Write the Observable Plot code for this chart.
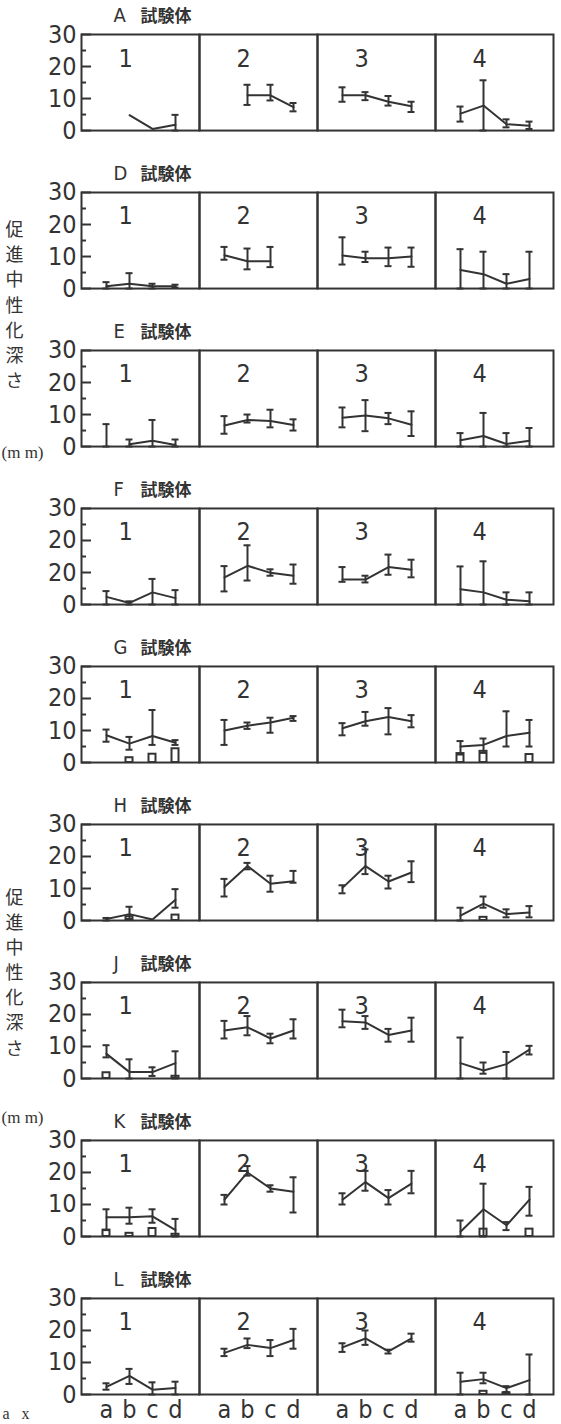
<!DOCTYPE html>
<html><head><meta charset="utf-8">
<script src="https://cdn.jsdelivr.net/npm/d3@7"></script>
<script src="https://cdn.jsdelivr.net/npm/@observablehq/plot@0.6"></script>
<style>body{margin:0;background:#fff}</style>
</head><body><div id="chart"></div>
<script>
const rows = ["A","D","E","F","G","H","J","K","L"];
const panels = [1,2,3,4];
const cats = ["a","b","c","d"];
const majorTicks = [0,10,20,30];
const minorTicks = [5,15,25];
const tickLabels = ["0","10","20","30"];
const F_tickLabels = ["0","20","20","30"];
const N = null;

// each array: 4 panels x 4 categories (a,b,c,d)
const A_mean = [[N,4.8,0.5,1.8],[N,11,11,7.3],[11,11,9,7.6],[5.3,7.8,2,1.5]];
const A_lo   = [[N,N,N,0],[N,8,9.4,6],[9,9.5,7.8,5.8],[2.8,0,1,0.5]];
const A_hi   = [[N,N,N,4.9],[N,14.3,14.3,8.6],[13.5,12,10.8,9],[7.5,15.7,3.5,2.8]];
const A_sq   = [[N,N,N,N],[N,N,N,N],[N,N,N,N],[N,N,N,N]];

const D_mean = [[0.7,1.5,0.7,0.7],[10.4,8.5,8.5,N],[10.3,9.5,9.5,10],[5.8,4.5,1.5,3]];
const D_lo   = [[0,0,0,0.3],[9,6,6.7,N],[7.5,8.3,7,6.8],[0,0,0,0]];
const D_hi   = [[2,4.8,1.5,1.2],[13,12.5,13,N],[16,11.5,12.8,12.8],[12.3,11.5,4.5,11.5]];
const D_sq   = [[N,N,N,N],[N,N,N,N],[N,N,N,N],[N,N,N,N]];

const E_mean = [[N,0.7,1.8,0.5],[6.6,8.3,8,6.7],[9,9.7,8.8,6.8],[2,3.3,0.8,1.8]];
const E_lo   = [[0,0,0,0],[4,7.5,6,5],[6,4.8,7,3.3],[0,0,0,0]];
const E_hi   = [[7,2.2,8.3,2.2],[9.5,10,11.5,8.5],[12.2,14.5,10.5,11],[4.2,10.5,4.2,5.8]];
const E_sq   = [[N,N,N,N],[N,N,N,N],[N,N,N,N],[N,N,N,N]];

const F_mean = [[2.4,0.5,3.8,2],[8.5,12.1,9.9,9],[7.8,7.8,11.7,10.9],[4.8,3.8,1.5,1]];
const F_lo   = [[0,0,0,0],[4.1,7.5,9,6.5],[7.1,6.9,9.3,8.5],[0,0,0,0]];
const F_hi   = [[4.2,1,8,4.5],[12,18.5,11,12.5],[11.7,9,15.6,14],[11.9,13.5,3.8,3.8]];
const F_sq   = [[N,N,N,N],[N,N,N,N],[N,N,N,N],[N,N,N,N]];

const G_mean = [[8.5,5.9,8.3,6.2],[10,11.5,12.5,14],[10.7,12.9,14.2,12.9],[5,5.5,8.3,9.3]];
const G_lo   = [[6.5,4,5.5,5.5],[5.5,10.5,9.3,13],[8.5,11.5,8.8,11],[2.5,3,5,5]];
const G_hi   = [[10.3,8,16.4,7],[13.3,12.5,14,14.5],[12.3,15.8,17,14.8],[6.7,7.5,16,13.3]];
const G_sq   = [[N,1.5,2.6,4.3],[N,N,N,N],[N,N,N,N],[2.8,3.5,N,2.5]];

const H_mean = [[0.5,2,0.3,6.5],[10.5,17,11.5,12.3],[10.2,17,12.2,15],[1.5,5.3,2,2.5]];
const H_lo   = [[0,0.5,N,4],[7.5,16,9,11.8],[8.5,14.5,10,12],[0,4,1,1]];
const H_hi   = [[0.8,4.3,N,9.8],[13,18,14,15.5],[11,22.2,14,18.5],[4,7.5,3.5,4.5]];
const H_sq   = [[N,1.2,N,1.7],[N,N,N,N],[N,N,N,N],[N,1,N,N]];

const J_mean = [[7.7,2,2,4.8],[15,16,12.5,15],[17.9,17.5,13.6,15],[4.8,2.5,4.5,9]];
const J_lo   = [[6.6,0,0.8,0],[12.5,13.5,11,12.5],[16,15.5,11.5,11.5],[0,1.5,0,7.5]];
const J_hi   = [[10.4,6,3.5,8.5],[18,19.5,14,18.5],[21.5,19.5,15.5,19],[12.8,5,8.3,10.2]];
const J_sq   = [[1.8,N,N,0.7],[N,N,N,N],[N,N,N,N],[N,N,N,N]];

const K_mean = [[6,6,6.3,2],[11.5,20,15,14],[11.5,17,12,16.5],[1.5,8.5,3.5,11.5]];
const K_lo   = [[2,4,4.3,0],[10,19,14,7.5],[10,14.3,10,13.5],[0,0,2,6.5]];
const K_hi   = [[8.5,9,8.5,5.5],[13,22,16,18.5],[13.5,20.5,14.5,20.5],[5,16.5,4.5,15.5]];
const K_sq   = [[2,1,2.5,0.7],[N,N,N,N],[N,N,N,N],[N,2.3,N,2.3]];

const L_mean = [[2.4,5.8,1.5,2],[13,15.5,14.5,17],[14.7,17.5,13.5,17.5],[4,4.8,2,4.5]];
const L_lo   = [[1.5,3.3,0,0],[12,14.5,12,14.3],[13.3,15.5,12.8,16.5],[0,3.5,0.8,0]];
const L_hi   = [[3.5,8,3.8,4],[14.3,17.5,17,20.5],[16,20,14,19],[6.8,6.8,2.6,12.5]];
const L_sq   = [[N,N,N,N],[N,N,N,N],[N,N,N,N],[N,1,0.5,N]];

const rowTable = [
  ["A",A_mean,A_lo,A_hi,A_sq,tickLabels],
  ["D",D_mean,D_lo,D_hi,D_sq,tickLabels],
  ["E",E_mean,E_lo,E_hi,E_sq,tickLabels],
  ["F",F_mean,F_lo,F_hi,F_sq,F_tickLabels],
  ["G",G_mean,G_lo,G_hi,G_sq,tickLabels],
  ["H",H_mean,H_lo,H_hi,H_sq,tickLabels],
  ["J",J_mean,J_lo,J_hi,J_sq,tickLabels],
  ["K",K_mean,K_lo,K_hi,K_sq,tickLabels],
  ["L",L_mean,L_lo,L_hi,L_sq,tickLabels]
];

const flat = [];
const tickText = [];
const majorData = [], minorData = [], panelNums = [];
for (const [row, mean, lo, hi, sq, labels] of rowTable) {
  panels.forEach((panel, pi) => {
    cats.forEach((cat, ci) => {
      flat.push({row, panel, cat, mean: mean[pi][ci], lo: lo[pi][ci], hi: hi[pi][ci], sq: sq[pi][ci]});
    });
    panelNums.push({row, panel});
  });
  majorTicks.forEach((v, i) => { majorData.push({row, v}); tickText.push({row, v, label: labels[i]}); });
  minorTicks.forEach(v => minorData.push({row, v}));
}
const lineData = flat.filter(d => d.mean != null);
const errData = flat.filter(d => d.lo != null);
const sqData = flat.filter(d => d.sq != null);

const ink = "#333";
const numFont = "'DejaVu Sans Condensed', 'Liberation Sans', 'DejaVu Sans', sans-serif";
const jpFont = "'Noto Sans CJK JP', sans-serif";
const serif = "'Liberation Serif', serif";
const one = () => 1;
const yLabel = "促\n進\n中\n性\n化\n深\nさ";

const plot = Plot.plot({
  width: 561, height: 1424,
  marginLeft: 81, marginRight: 8, marginTop: 34, marginBottom: 30,
  style: {fontFamily: numFont, color: ink, background: "white"},
  fx: {domain: panels, padding: 0, axis: null, round: false},
  fy: {domain: rows, paddingInner: 0.392, paddingOuter: 0, axis: null, round: false},
  x: {domain: cats, padding: 1, axis: null},
  y: {domain: [0, 30], axis: null},
  marks: [
    Plot.frame({stroke: ink, strokeWidth: 2}),
    Plot.ruleY(majorData, {y: "v", fy: "row", fx: one, insetRight: 108, stroke: ink, strokeWidth: 2}),
    Plot.ruleY(minorData, {y: "v", fy: "row", fx: one, insetRight: 113, stroke: ink, strokeWidth: 2}),
    Plot.text(tickText, {y: "v", text: "label", fy: "row", fx: one, frameAnchor: "left", textAnchor: "end", dx: -5, fontSize: 25, fill: ink}),
    Plot.text(rows, {fy: d => d, fx: one, text: d => d, frameAnchor: "top-left", dx: 32, dy: -19, textAnchor: "start", lineAnchor: "middle", fontSize: 20, fill: ink}),
    Plot.text(rows, {fy: d => d, fx: one, text: () => "試験体", frameAnchor: "top-left", dx: 59, dy: -18, textAnchor: "start", lineAnchor: "middle", fontSize: 17, fontWeight: 700, fontFamily: jpFont, fill: ink}),
    Plot.text(panelNums, {fx: "panel", fy: "row", text: d => String(d.panel), frameAnchor: "top-left", dx: 37, dy: 24, lineAnchor: "middle", fontSize: 25, fill: ink}),
    Plot.rect(sqData, {x1: "cat", x2: "cat", y1: 0, y2: "sq", fx: "panel", fy: "row", insetLeft: -3.5, insetRight: -3.5, fill: "white", stroke: ink, strokeWidth: 2}),
    Plot.ruleX(errData, {x: "cat", y1: "lo", y2: "hi", fx: "panel", fy: "row", stroke: ink, strokeWidth: 2}),
    Plot.ruleY(errData, {x1: "cat", x2: "cat", y: "hi", fx: "panel", fy: "row", insetLeft: -3.5, insetRight: -3.5, stroke: ink, strokeWidth: 2}),
    Plot.ruleY(errData, {x1: "cat", x2: "cat", y: "lo", fx: "panel", fy: "row", insetLeft: -3.5, insetRight: -3.5, stroke: ink, strokeWidth: 2}),
    Plot.line(lineData, {x: "cat", y: "mean", fx: "panel", fy: "row", stroke: ink, strokeWidth: 2}),
    Plot.axisX({label: null, tickSize: 0, tickPadding: 6, fontSize: 25, fill: ink}),
    Plot.text([yLabel], {fx: one, fy: () => "D", text: d => d, frameAnchor: "top-left", dx: -67, dy: 111, textAnchor: "middle", lineAnchor: "middle", lineHeight: 1.39, fontSize: 18, fontFamily: jpFont, fill: ink}),
    Plot.text([yLabel], {fx: one, fy: () => "H", text: d => d, frameAnchor: "top-left", dx: -67, dy: 147, textAnchor: "middle", lineAnchor: "middle", lineHeight: 1.39, fontSize: 18, fontFamily: jpFont, fill: ink}),
    Plot.text(["(m m)"], {fx: one, fy: () => "E", text: d => d, frameAnchor: "top-left", dx: -80, dy: 102, textAnchor: "start", lineAnchor: "middle", fontSize: 17, fontFamily: serif, fill: ink}),
    Plot.text(["(m m)"], {fx: one, fy: () => "K", text: d => d, frameAnchor: "top-left", dx: -80, dy: -23, textAnchor: "start", lineAnchor: "middle", fontSize: 17, fontFamily: serif, fill: ink}),
    Plot.text(["a\u00a0\u00a0\u00a0x"], {fx: one, fy: () => "L", text: d => d, frameAnchor: "bottom-left", dx: -79, dy: 19, textAnchor: "start", lineAnchor: "middle", fontSize: 16, fontFamily: serif, fill: ink})
  ]
});
document.getElementById("chart").appendChild(plot);
</script>
</body></html>
